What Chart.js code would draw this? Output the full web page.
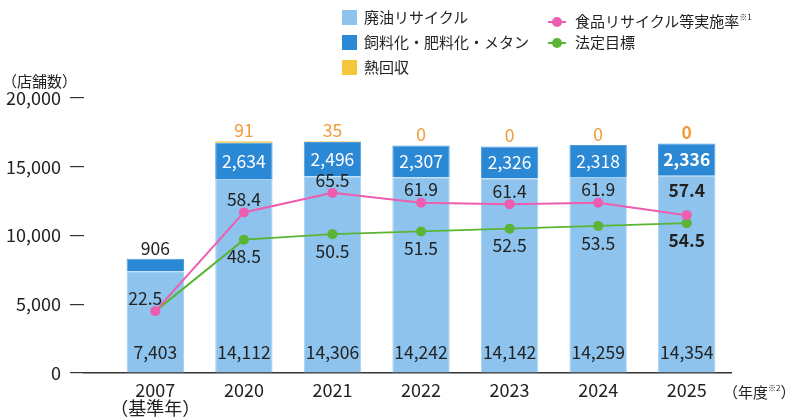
<!DOCTYPE html>
<html>
<head>
<meta charset="utf-8">
<script src="https://cdn.jsdelivr.net/npm/chart.js@4.4.1/dist/chart.umd.min.js"></script>
<style>
  html, body { margin: 0; padding: 0; background: #fff; }
  body { width: 792px; height: 420px; position: relative; overflow: hidden;
         font-family: "Noto Sans CJK JP", "Noto Sans", sans-serif; color: #222; }
  #c { position: absolute; left: 0; top: 0; }
  .lg { position: absolute; font-size: 15px; line-height: 18px; white-space: nowrap; }
  .box { display: inline-block; width: 15px; height: 15px; vertical-align: -2px; margin-right: 7px; }
  .ln { display: inline-block; width: 18px; height: 12px; position: relative; vertical-align: -1px; margin-right: 9px; }
  .ln i { position: absolute; left: 0; right: 0; top: 5px; height: 2px; }
  .ln b { position: absolute; left: 4px; top: 1px; width: 10px; height: 10px; border-radius: 50%; }
  sup { font-size: 8px; vertical-align: 7px; }
  .ann { position: absolute; font-size: 15px; white-space: nowrap; }
</style>
</head>
<body>
<canvas id="c" width="792" height="420"></canvas>
<div class="lg" style="left:342px;top:8px"><span class="box" style="background:#8DC3EC"></span>廃油リサイクル</div>
<div class="lg" style="left:342px;top:33px"><span class="box" style="background:#2B88D4"></span>飼料化・肥料化・メタン</div>
<div class="lg" style="left:342px;top:58px"><span class="box" style="background:#F4C83A"></span>熱回収</div>
<div class="lg" style="left:548px;top:8px"><span class="ln"><i style="background:#EE5DAF"></i><b style="background:#EE5DAF"></b></span>食品リサイクル等実施率<sup>※1</sup></div>
<div class="lg" style="left:548px;top:33px"><span class="ln"><i style="background:#5BB534"></i><b style="background:#5BB534"></b></span>法定目標</div>
<div class="ann" style="left:2px;top:70px">（店舗数）</div>
<div class="ann" style="left:723px;top:381px">（年度<sup>※2</sup>）</div>
<script>
const years = ["2007", "2020", "2021", "2022", "2023", "2024", "2025"];
const yearSub = ["（基準年）", "", "", "", "", "", ""];
const oilRecycle = [7403, 14112, 14306, 14242, 14142, 14259, 14354];
const feedFertMethane = [906, 2634, 2496, 2307, 2326, 2318, 2336];
const heatRecovery = [0, 91, 35, 0, 0, 0, 0];
const heatLabels = ["", "91", "35", "0", "0", "0", "0"];
const recycleRate = [22.5, 58.4, 65.5, 61.9, 61.4, 61.9, 57.4];
const legalTarget = [22.5, 48.5, 50.5, 51.5, 52.5, 53.5, 54.5];
const yTicks = [0, 5000, 10000, 15000, 20000];

const FONT = '"Noto Sans CJK JP", "Noto Sans", sans-serif';
const pts = arr => arr.map((v, i) => ({ x: i, y: v }));
const fmt = v => v.toLocaleString('en-US');
const lastIdx = years.length - 1;

const labelPlugin = {
  id: 'labels',
  afterDatasetsDraw(chart) {
    const ctx = chart.ctx;
    const ys = chart.scales.y;
    const base = ys.getPixelForValue(0);
    ctx.save();
    ctx.textAlign = 'center';
    ctx.textBaseline = 'middle';
    const put = (t, x, y, color, bold) => {
      ctx.font = (bold ? 'bold ' : '') + '17.5px ' + FONT;
      ctx.fillStyle = color;
      ctx.fillText(t, x, y);
    };
    const m0 = chart.getDatasetMeta(0), m1 = chart.getDatasetMeta(1), m2 = chart.getDatasetMeta(2);
    const m3 = chart.getDatasetMeta(3), m4 = chart.getDatasetMeta(4);
    years.forEach((_, i) => {
      const bold = i === lastIdx;
      const b0 = m0.data[i];
      if (b0) put(fmt(oilRecycle[i]), b0.x, base - 21, '#222', false);
      const b1 = m1.data[i];
      if (b1) {
        const segH = b1.base - b1.y;
        if (segH > 24) put(fmt(feedFertMethane[i]), b1.x, (b1.y + b1.base) / 2, '#fff', bold);
        else put(fmt(feedFertMethane[i]), b1.x, b1.y - 10, '#222', false);
      }
      const b2 = m2.data[i];
      if (b2 && heatLabels[i]) put(heatLabels[i], b2.x, b2.y - 11, '#F39A3A', bold);
      const p = m3.data[i];
      if (p) put(recycleRate[i].toFixed(1), p.x + (i === 0 ? -10 : 0), p.y - (bold ? 25 : 13), '#222', bold);
      const g = m4.data[i];
      if (g && i > 0) put(legalTarget[i].toFixed(1), g.x, g.y + 17, '#222', bold);
    });
    ctx.restore();
  }
};

new Chart(document.getElementById('c'), {
  data: {
    datasets: [
      { type: 'bar', label: '廃油リサイクル', data: pts(oilRecycle), backgroundColor: '#8DC3EC',
        borderColor: '#A9D2F2', borderWidth: 1, borderSkipped: 'bottom', stack: 's', order: 2, yAxisID: 'y' },
      { type: 'bar', label: '飼料化・肥料化・メタン', data: pts(feedFertMethane), backgroundColor: '#2B88D4',
        borderColor: '#4E9EDF', borderWidth: 1, stack: 's', order: 2, yAxisID: 'y' },
      { type: 'bar', label: '熱回収', data: pts(heatRecovery), backgroundColor: '#F4C83A',
        borderWidth: 0, stack: 's', order: 2, yAxisID: 'y' },
      { type: 'line', label: '食品リサイクル等実施率', data: pts(recycleRate), borderColor: '#EE5DAF',
        backgroundColor: '#EE5DAF', borderWidth: 2, pointRadius: 5, pointHoverRadius: 5,
        pointBorderWidth: 0, order: 0, yAxisID: 'y2' },
      { type: 'line', label: '法定目標', data: pts(legalTarget), borderColor: '#5BB534',
        backgroundColor: '#5BB534', borderWidth: 2,
        pointRadius: c => c.dataIndex === 0 ? 0 : 5, pointHoverRadius: 5,
        pointBorderWidth: 0, order: 1, yAxisID: 'y2' }
    ]
  },
  options: {
    responsive: false,
    animation: false,
    devicePixelRatio: 1,
    layout: { padding: { left: -3, right: 61, top: 98, bottom: -5 } },
    plugins: { legend: { display: false }, tooltip: { enabled: false } },
    datasets: { bar: { barPercentage: 0.72, categoryPercentage: 0.9 } },
    scales: {
      x: {
        type: 'linear', min: -0.806, max: 6.5, stacked: true, offset: false,
        afterBuildTicks: s => { s.ticks = years.map((_, i) => ({ value: i })); },
        ticks: {
          callback: v => yearSub[v] ? [years[v], yearSub[v]] : years[v],
          color: '#222', font: { family: FONT, size: 18, lineHeight: 1.0 }, padding: 8, maxRotation: 0,
          autoSkip: false
        },
        grid: { display: false, drawTicks: false },
        border: { display: true, color: '#333', width: 1.5 }
      },
      y: {
        type: 'linear', position: 'left', stacked: true, min: 0, max: 20000,
        afterBuildTicks: s => { s.ticks = yTicks.map(v => ({ value: v })); },
        ticks: { callback: v => fmt(v), color: '#222', font: { family: FONT, size: 18 }, padding: 9 },
        grid: { drawOnChartArea: false, drawTicks: true, tickLength: 14, color: '#333', lineWidth: 1.2 },
        border: { display: false }
      },
      y2: {
        type: 'linear', position: 'right', display: false, min: 0, max: 100
      }
    }
  },
  plugins: [labelPlugin]
});
</script>
</body>
</html>
